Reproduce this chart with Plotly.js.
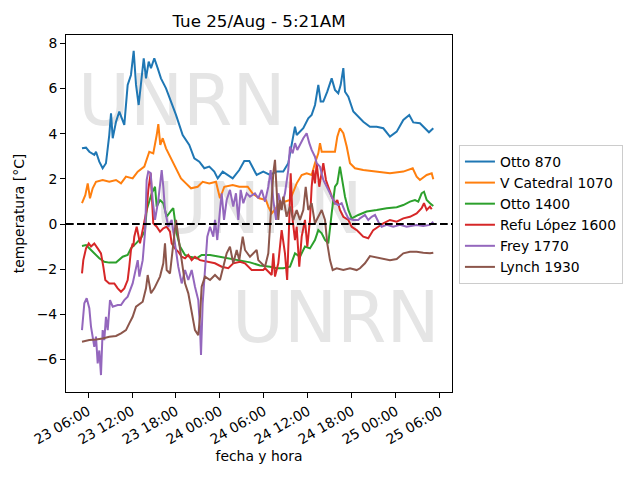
<!DOCTYPE html>
<html>
<head>
<meta charset="utf-8">
<script src="https://cdn.plot.ly/plotly-3.0.1.min.js"></script>
<style>
  html, body { margin: 0; padding: 0; background: #ffffff; }
  #wrap { position: relative; width: 640px; height: 480px; }
  #wm { position: absolute; left: 0; top: 0; z-index: 0; }
  #chart { position: absolute; left: 0; top: 0; width: 640px; height: 480px; z-index: 1; }
</style>
</head>
<body>
<div id="wrap">
  <svg id="wm" width="640" height="480" xmlns="http://www.w3.org/2000/svg">
    <g font-family="DejaVu Sans" font-size="71" fill="#e5e5e5">
      <text x="78" y="125">UNRN</text>
      <text x="155" y="233">UNRN</text>
      <text x="232" y="342">UNRN</text>
    </g>
  </svg>
  <div id="chart"></div>
</div>
<script>
// Hours since 2020-08-23 00:00 and temperatures (°C)
const names = ["Otto 870", "V Catedral 1070", "Otto 1400", "Refu López 1600", "Frey 1770", "Lynch 1930"];
const colors = ["#1f77b4", "#ff7f0e", "#2ca02c", "#d62728", "#9467bd", "#8c564b"];

const otto870H = [5.18,5.73,6.18,6.86,7.09,7.54,8.00,8.45,8.90,9.14,9.37,9.82,10.27,10.95,11.41,11.86,12.23,12.55,12.91,13.23,13.60,13.91,14.28,14.59,15.04,15.50,15.95,16.64,17.32,18.00,18.91,19.81,20.50,21.18,21.86,22.54,23.22,23.69,24.37,25.05,25.73,26.63,27.31,28.00,28.54,29.00,29.90,30.82,31.73,32.63,33.31,33.78,34.23,34.46,35.36,36.04,36.50,36.96,37.19,37.41,37.73,38.09,38.63,39.23,39.68,40.13,40.46,40.82,41.05,41.50,42.18,42.86,43.54,44.45,45.37,46.27,47.18,48.10,49.00,49.81,50.36,51.27,51.95,52.50,53.09];
const otto870V = [3.35,3.38,3.2,3.06,3.2,2.76,2.47,2.69,3.94,4.9,3.8,4.53,4.98,4.39,6.16,6.6,7.67,6.16,5.27,6.16,7.34,6.45,7.19,6.9,7.34,6.9,6.45,6.01,5.42,4.83,3.94,3.5,2.91,2.76,2.47,2.54,2.32,2.02,2.32,2.17,2.02,2.39,2.79,2.79,2.47,2.17,2.32,2.17,2.32,2.32,2.69,3.5,4.31,3.94,4.24,4.68,4.83,5.27,5.72,6.16,5.42,5.42,5.86,6.45,5.94,5.79,6.16,6.9,5.86,5.64,4.98,4.75,4.53,4.31,4.31,4.24,3.87,4.09,4.61,4.83,4.5,4.46,4.24,4.06,4.24];

const vcatH = [5.18,5.63,5.96,6.27,6.64,7.09,8.00,8.90,9.82,10.50,11.18,12.09,12.78,13.68,14.36,14.90,15.37,15.59,15.86,16.19,16.64,17.32,18.00,18.68,19.36,20.05,20.96,21.64,22.54,23.45,24.00,24.59,25.73,26.63,27.78,28.46,29.36,30.27,30.59,31.05,32.18,33.55,34.46,35.14,35.82,36.50,36.95,37.41,37.64,37.87,38.77,39.68,40.00,40.36,40.82,41.28,41.73,42.41,43.54,45.37,47.18,49.00,50.28,50.82,51.27,52.19,52.87,53.09];
const vcatV = [0.92,1.28,1.8,1.14,1.58,1.87,1.95,1.87,1.95,1.8,2.1,2.02,2.32,2.54,3.2,3.13,3.94,4.42,3.5,3.8,3.35,2.91,2.47,2.02,1.8,1.58,1.65,1.87,1.8,1.87,1.14,1.65,1.73,1.65,1.65,1.35,1.14,1.06,0.77,0.47,0.92,1.06,1.8,2.17,2.25,2.17,2.69,3.13,3.58,3.2,3.2,3.2,3.87,4.24,4.02,3.43,2.69,2.47,2.39,2.32,2.25,2.32,2.47,2.1,1.95,2.17,2.25,1.98];

const otto1400H = [5.18,5.73,6.41,7.09,7.54,8.22,8.90,9.82,10.27,10.73,11.41,11.86,12.55,13.23,13.77,14.00,14.69,15.14,15.37,15.82,16.27,16.73,17.41,17.63,18.09,18.55,19.23,19.91,20.82,21.50,22.64,24.00,25.36,26.73,28.09,29.45,30.82,31.73,32.63,33.55,34.23,34.91,35.59,36.27,36.95,37.41,37.87,38.32,38.77,39.23,39.68,40.00,40.36,40.59,41.05,41.50,41.96,42.86,44.00,45.37,46.73,48.10,49.00,49.91,50.59,51.04,51.50,51.82,52.19,52.64,53.09];
const otto1400V = [-0.97,-0.93,-1.15,-1.37,-1.52,-1.67,-1.71,-1.71,-1.6,-1.45,-1.37,-1.08,-0.86,-0.63,-0.3,0.62,1.36,1.65,0.77,1.06,0.92,0.32,0.62,0.7,-0.41,-1.0,-1.37,-1.45,-1.52,-1.37,-1.37,-1.45,-1.52,-1.6,-1.7,-1.84,-1.89,-1.96,-1.96,-1.89,-1.3,-1.45,-1.0,-1.08,-0.71,-0.27,-0.41,-0.71,-0.86,0.47,1.65,1.8,2.54,2.1,1.21,0.62,0.25,0.4,0.55,0.62,0.7,0.74,0.84,0.99,1.06,0.99,1.36,1.43,1.06,0.92,0.8];

const refuH = [5.18,5.36,5.73,6.10,6.41,6.86,7.32,7.77,8.09,8.36,8.90,9.59,10.05,10.50,10.95,11.41,11.63,11.86,12.09,12.18,12.31,12.64,13.09,13.54,14.00,14.22,14.55,14.90,15.37,15.82,16.27,16.73,17.18,17.41,17.86,18.31,18.78,19.23,19.68,20.14,20.59,21.27,22.18,23.32,24.23,25.13,25.81,26.73,27.41,28.32,29.22,29.90,30.14,31.05,31.27,31.50,31.95,32.41,32.86,33.16,33.45,33.64,33.91,34.23,34.46,34.81,35.14,35.59,35.91,36.27,36.50,36.72,36.95,37.19,37.54,37.87,38.09,38.45,38.77,39.23,39.68,40.00,40.36,40.82,41.50,41.96,42.64,43.54,44.22,44.90,45.59,46.27,47.18,48.10,49.00,49.91,50.82,51.50,51.82,52.19,52.64,52.87];
const refuV = [-2.19,-1.6,-1.08,-0.86,-1.0,-0.86,-1.08,-1.3,-1.89,-2.48,-2.63,-2.63,-2.85,-3.0,-2.85,-2.48,-1.89,-1.15,-0.86,-1.0,-0.56,-0.12,-0.86,-0.04,0.62,1.51,2.25,0.03,-0.12,-0.34,-0.19,-0.12,-0.34,-0.86,-1.08,-1.23,-1.45,-1.52,-1.37,-1.6,-1.45,-1.6,-1.67,-1.74,-1.89,-1.96,-1.74,-1.67,-1.74,-2.04,-2.04,-2.04,-1.96,-2.26,-1.3,-2.33,-1.74,-0.27,-1.3,-2.48,0.18,2.25,0.18,-0.71,-0.12,-1.89,-0.56,0.18,-1.0,0.18,1.65,2.39,1.8,2.69,1.65,2.25,2.69,1.95,1.65,1.21,0.92,1.06,0.62,0.32,0.18,-0.12,-0.27,-0.56,-0.63,-0.27,-0.12,0.03,0.18,0.1,0.25,0.32,0.47,0.7,0.92,0.62,0.77,0.65];

const freyH = [5.18,5.50,5.82,6.18,6.41,6.86,7.09,7.32,7.54,7.77,8.00,8.22,8.45,8.69,9.00,9.37,10.05,10.50,10.95,11.41,12.09,12.78,13.00,13.46,13.80,14.00,14.22,14.55,14.82,15.14,15.59,16.05,16.27,16.50,16.95,17.41,17.86,18.31,18.78,19.23,19.68,20.14,20.59,21.04,21.27,21.41,21.64,21.95,22.27,22.64,23.09,23.32,23.63,24.00,24.23,24.55,24.91,25.36,25.81,26.18,26.50,26.82,27.18,27.64,28.09,28.77,29.22,29.69,30.14,30.59,30.91,31.27,31.64,31.95,32.41,32.86,33.31,33.55,33.91,34.23,34.54,35.36,35.82,36.18,36.50,36.95,37.19,37.64,38.09,38.77,39.23,39.68,40.13,40.59,41.05,41.50,42.18,42.86,43.09,43.77,44.22,44.68,45.14,45.59,46.05,46.73,47.63,48.55,49.45,50.82,51.72,52.64,53.09];
const freyV = [-4.7,-3.51,-3.29,-3.73,-4.55,-5.44,-4.99,-6.17,-5.6,-6.69,-4.7,-5.14,-4.11,-4.7,-3.37,-3.66,-3.59,-3.59,-3.37,-3.22,-2.63,-1.6,-2.33,-1.6,-0.27,1.95,2.32,2.25,1.06,0.18,1.06,2.39,1.65,0.62,-0.12,0.18,-0.86,-1.89,-2.63,-2.04,-2.48,-2.04,-2.78,-3.37,-4.55,-5.8,-3.51,-1.89,-0.56,-0.12,-0.56,0.18,-0.71,0.62,1.36,0.18,1.06,1.51,0.77,1.36,0.18,1.51,0.92,1.36,1.21,1.36,1.14,1.51,0.99,1.65,2.39,1.06,0.18,1.36,0.77,1.36,2.39,3.43,3.13,3.58,3.28,3.8,4.02,3.58,3.28,2.98,2.69,2.54,1.95,1.51,1.21,0.92,0.84,0.92,0.55,0.25,0.18,0.18,0.25,0.4,0.18,0.32,0.4,0.1,-0.12,-0.04,-0.12,-0.04,-0.12,-0.04,-0.09,-0.04,0.1];

const lynchH = [5.18,6.18,7.09,8.00,8.90,9.82,10.50,11.18,11.63,12.09,12.55,13.46,13.91,14.14,14.59,15.04,15.82,16.27,16.50,16.73,17.18,17.63,18.00,18.31,18.78,19.23,19.68,20.14,20.59,21.04,21.27,21.50,21.95,22.64,23.32,24.00,24.45,24.91,25.36,25.81,26.28,26.63,27.10,27.41,28.09,28.54,29.00,29.22,29.69,30.14,30.59,30.91,31.27,31.50,31.73,31.95,32.18,32.41,32.63,33.09,33.55,34.00,34.46,34.91,35.36,35.69,36.04,36.50,36.95,37.41,37.87,38.32,38.63,39.00,39.37,39.91,40.82,41.73,42.64,43.09,43.77,44.45,45.37,46.27,47.18,48.10,49.00,49.91,50.82,51.72,52.64,53.09];
const lynchV = [-5.21,-5.14,-5.11,-5.07,-4.99,-4.96,-4.84,-4.7,-4.4,-4.11,-3.66,-3.44,-2.85,-2.26,-3.07,-2.85,-2.33,-1.74,-0.86,-2.04,-2.19,-0.86,0.18,-0.56,-1.74,-2.63,-3.07,-3.96,-4.7,-4.92,-4.11,-2.78,-2.33,-2.48,-2.26,-2.48,-1.89,-1.3,-1.0,-1.74,-1.15,-1.6,-0.56,-1.15,-1.45,-1.3,-1.15,-1.6,-1.74,-1.89,-1.3,0.18,2.25,2.84,1.65,0.18,1.06,0.62,1.21,0.32,0.77,0.18,0.62,0.18,0.62,1.65,0.62,0.92,0.03,0.32,0.62,0.18,-0.86,-1.6,-2.04,-1.96,-2.04,-1.96,-2.04,-1.96,-1.74,-1.42,-1.48,-1.52,-1.6,-1.55,-1.3,-1.23,-1.23,-1.27,-1.3,-1.27];

const yTicks = [-6, -4, -2, 0, 2, 4, 6, 8];

function toDate(h) {
  const ms = Date.UTC(2020, 7, 23) + Math.round(h * 3600000);
  return new Date(ms).toISOString().replace('T', ' ').slice(0, 19);
}

const seriesH = [otto870H, vcatH, otto1400H, refuH, freyH, lynchH];
const seriesV = [otto870V, vcatV, otto1400V, refuV, freyV, lynchV];

const traces = names.map((n, i) => ({
  type: 'scatter',
  mode: 'lines',
  name: n,
  x: seriesH[i].map(toDate),
  y: seriesV[i],
  line: { color: colors[i], width: 2 }
}));

const font = { family: 'DejaVu Sans', size: 13.9, color: '#000' };

const layout = {
  width: 640, height: 480,
  margin: { l: 66, r: 188, t: 35, b: 88 },
  paper_bgcolor: 'rgba(0,0,0,0)',
  plot_bgcolor: 'rgba(0,0,0,0)',
  font: font,
  showlegend: true,
  title: {
    text: 'Tue 25/Aug - 5:21AM',
    font: { family: 'DejaVu Sans', size: 16.7, color: '#000' },
    xref: 'paper', x: 0.5, xanchor: 'center',
    yref: 'container', y: 1 - 21 / 480, yanchor: 'middle'
  },
  xaxis: {
    type: 'date',
    range: [toDate(3.0), toDate(55.64)],
    tick0: toDate(6), dtick: 6 * 3600000,
    tickformat: '%d %H:%M',
    tickangle: -30,
    ticks: 'outside', ticklen: 5, tickwidth: 1, tickcolor: '#000',
    showline: true, linecolor: '#000', linewidth: 1, mirror: true,
    showgrid: false, zeroline: false,
    tickfont: font,
    automargin: false,
    title: { text: 'fecha y hora', font: font, standoff: 4 }
  },
  yaxis: {
    range: [-7.44, 8.37],
    tickvals: yTicks,
    ticks: 'outside', ticklen: 5, tickwidth: 1, tickcolor: '#000',
    showline: true, linecolor: '#000', linewidth: 1, mirror: true,
    showgrid: false, zeroline: false,
    tickfont: font,
    automargin: false,
    title: { text: 'temperatura [°C]', font: font, standoff: 8 }
  },
  legend: {
    x: 1.018, xanchor: 'left',
    y: (392 - 145) / 357, yanchor: 'top',
    bgcolor: '#ffffff', bordercolor: '#cccccc', borderwidth: 1,
    font: font, itemwidth: 30, tracegroupgap: 0
  },
  shapes: [{
    type: 'line', xref: 'paper', x0: 0, x1: 1, yref: 'y', y0: 0, y1: 0,
    line: { color: '#000', width: 2, dash: '7.7px,3.3px' }
  }]
};

Plotly.newPlot('chart', traces, layout, { staticPlot: true, displayModeBar: false });
</script>
</body>
</html>
